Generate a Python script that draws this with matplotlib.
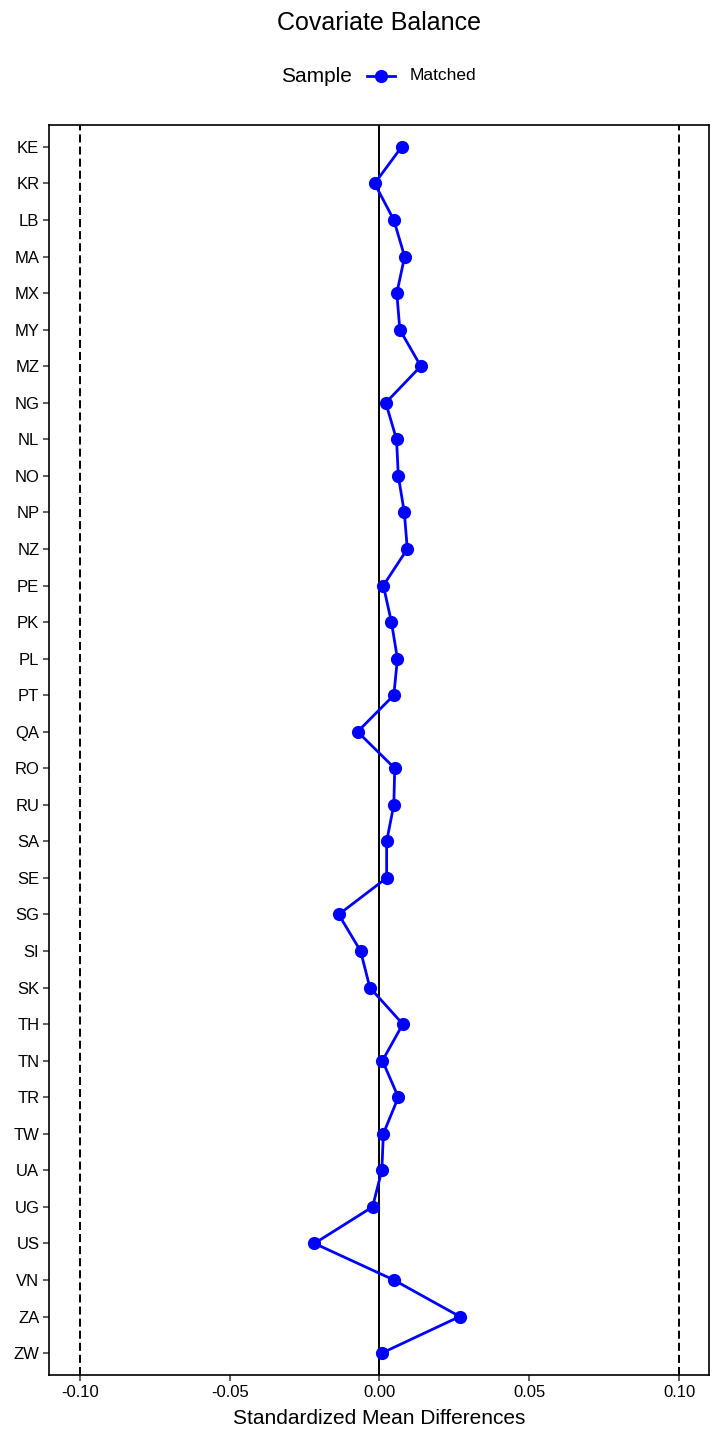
import matplotlib
matplotlib.use("Agg")
import matplotlib.pyplot as plt
from matplotlib.lines import Line2D

plt.rcParams['font.family'] = ['Liberation Sans', 'DejaVu Sans']

covariates = ["KE", "KR", "LB", "MA", "MX", "MY", "MZ", "NG", "NL", "NO", "NP", "NZ",
              "PE", "PK", "PL", "PT", "QA", "RO", "RU", "SA", "SE", "SG", "SI", "SK",
              "TH", "TN", "TR", "TW", "UA", "UG", "US", "VN", "ZA", "ZW"]
smd_matched = [0.0074, -0.0016, 0.0048, 0.0084, 0.0058, 0.0068, 0.0138, 0.0021,
               0.0057, 0.0063, 0.0083, 0.0093, 0.0013, 0.0040, 0.0060, 0.0048,
               -0.0073, 0.0051, 0.0048, 0.0024, 0.0024, -0.0136, -0.0063, -0.0032,
               0.0078, 0.0010, 0.0063, 0.0013, 0.0008, -0.0023, -0.0217, 0.0048,
               0.0268, 0.0008]
x_ticks = [-0.10, -0.05, 0.00, 0.05, 0.10]
x_tick_labels = ["-0.10", "-0.05", "0.00", "0.05", "0.10"]
threshold = 0.10

W, H = 720, 1440
fig = plt.figure(figsize=(W / 100, H / 100), dpi=100)
left, right, top, bottom = 49, 709, 125, 1375
ax = fig.add_axes([left / W, 1 - bottom / H, (right - left) / W, (bottom - top) / H])

n = len(covariates)
ypos = list(range(n))

lw_ref = 1.4
ax.axvline(0, color='black', lw=lw_ref, zorder=1)
for t in (-threshold, threshold):
    ax.axvline(t, color='black', lw=lw_ref, linestyle=(0, (5.8 / lw_ref, 2.9 / lw_ref)), zorder=1)

ax.plot(smd_matched, ypos, color='#0000FF', lw=2.0, marker='o', markersize=9.5,
        markeredgewidth=0, zorder=3)

ax.set_xlim(-0.1103, 0.11)
ax.set_ylim(n - 1 + 0.6, -0.6)
ax.set_yticks(ypos)
ax.set_yticklabels(covariates, fontsize=12)
ax.set_xticks(x_ticks)
ax.set_xticklabels(x_tick_labels, fontsize=12)
ax.tick_params(axis='both', length=4, width=1.1, color='#333333', labelcolor='black', pad=3)
for s in ax.spines.values():
    s.set_linewidth(1.2)
    s.set_color('black')

ax.set_xlabel("Standardized Mean Differences", fontsize=15, labelpad=7)

fig.text(379 / W, 1 - 23 / H, "Covariate Balance", ha='center', va='center', fontsize=18)

# legend
fig.text(316 / W, 1 - 76 / H, "Sample", ha='center', va='center', fontsize=15)
key = Line2D([367 / W, 395 / W], [1 - 76 / H, 1 - 76 / H], transform=fig.transFigure,
             color='#0000FF', lw=2.0)
fig.add_artist(key)
keym = Line2D([381 / W], [1 - 76 / H], transform=fig.transFigure, color='#0000FF',
              marker='o', markersize=9.5, markeredgewidth=0, linestyle='none')
fig.add_artist(keym)
fig.text(410 / W, 1 - 76 / H, "Matched", ha='left', va='center', fontsize=12.5)

fig.savefig("out.png", dpi=100, facecolor='white')
